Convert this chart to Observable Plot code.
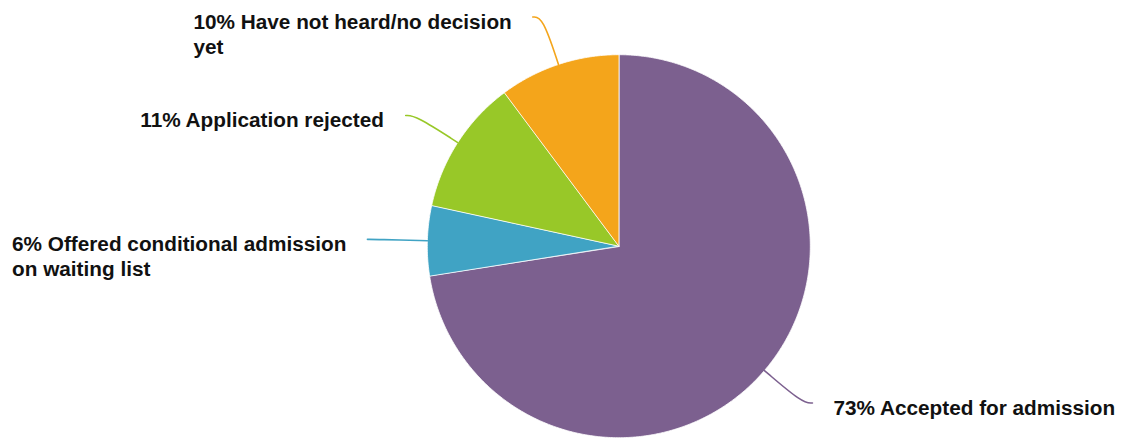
<!DOCTYPE html>
<html><head><meta charset="utf-8">
<script src="https://cdn.jsdelivr.net/npm/d3@7"></script>
<script src="https://cdn.jsdelivr.net/npm/@observablehq/plot@0.6"></script>
<style>html,body{margin:0;padding:0;background:#fff;}</style>
</head><body><div id="chart"></div>
<script>
// ---- data ----
const categories = ["Accepted for admission", "Offered conditional admission\non waiting list", "Application rejected", "Have not heard/no decision\nyet"];
const values = [72.5, 5.9, 11.4, 10.2];
const shownPercents = [73, 6, 11, 10];
const colors = ["#7C608F", "#40A3C4", "#98C828", "#F4A51B"];

// ---- layout ----
const W = 1122, H = 439;
const cx = 618.3, cy = 245.7, r = 191.5;
const elbow = 50, tail = 10, gap = 21;
const fontSize = 20.75, lineHeight = 1.2;
const fontFamily = '"Liberation Sans", Arial, Helvetica, sans-serif';

const data = categories.map((c, i) => ({category: c, value: values[i], pct: shownPercents[i], color: colors[i]}));
const arcs = d3.pie().sort(null).value(d => d.value)(data);
const pt = (a, rad) => ({x: cx + rad * Math.sin(a), y: cy - rad * Math.cos(a)});

const slices = arcs.map(a => {
  const n = Math.max(2, Math.ceil((a.endAngle - a.startAngle) / (Math.PI / 360)));
  const pts = [{x: cx, y: cy}];
  for (let k = 0; k <= n; k++) pts.push(pt(a.startAngle + (a.endAngle - a.startAngle) * k / n, r));
  return {pts, color: a.data.color};
});

const leaders = arcs.map(a => {
  const m = (a.startAngle + a.endAngle) / 2;
  const p0 = pt(m, r), p1 = pt(m, r + elbow);
  const side = Math.sin(m) >= 0 ? 1 : -1;
  const p2 = {x: p1.x + side * tail, y: p1.y};
  return {pts: [p0, p1, p2], side, end: p2, color: a.data.color, d: a.data};
});

const ctx = document.createElement("canvas").getContext("2d");
ctx.font = `bold ${fontSize}px ${fontFamily}`;
const labelRows = leaders.map(l => {
  const text = `${l.d.pct}% ${l.d.category}`;
  const lines = text.split("\n");
  const w = Math.max(...lines.map(s => ctx.measureText(s).width));
  const x = l.side > 0 ? l.end.x + gap : l.end.x - gap - w;
  const y = l.end.y + 4 + (lines.length - 1) / 2 * lineHeight * fontSize;
  return {x, y, text};
});

const chart = Plot.plot({
  width: W, height: H,
  margin: 0,
  x: {domain: [0, W], range: [0, W], axis: null},
  y: {domain: [0, H], range: [0, H], axis: null},
  style: {background: "#fff", overflow: "visible"},
  marks: [
    ...slices.map(s => Plot.line(s.pts, {x: "x", y: "y", fill: s.color, stroke: "#fff", strokeWidth: 0.8, curve: "linear-closed"})),
    ...leaders.map(l => Plot.line(l.pts, {x: "x", y: "y", stroke: l.color, strokeWidth: 1.6, curve: "basis"})),
    Plot.text(labelRows, {x: "x", y: "y", text: "text", textAnchor: "start", lineAnchor: "middle", lineHeight,
      fontSize, fontWeight: "bold", fontFamily, fill: "#111"})
  ]
});
document.getElementById("chart").appendChild(chart);
</script>
</body></html>
